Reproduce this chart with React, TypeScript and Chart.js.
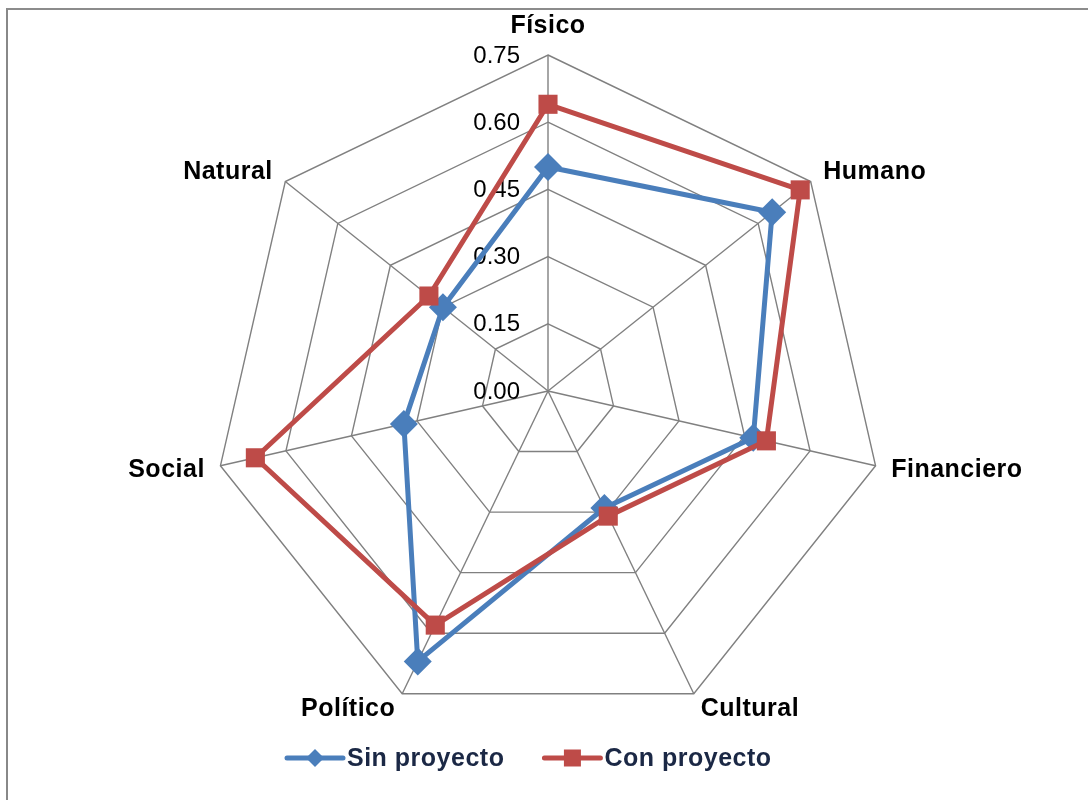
import React, { useEffect, useRef } from 'react';
import { Chart, registerables } from 'chart.js';

Chart.register(...registerables);

const categories = ['Físico', 'Humano', 'Financiero', 'Cultural', 'Político', 'Social', 'Natural'];
const sinProyecto = [0.50, 0.64, 0.47, 0.29, 0.67, 0.33, 0.30];
const conProyecto = [0.64, 0.72, 0.50, 0.31, 0.58, 0.67, 0.34];
const tickValues = [0, 0.15, 0.3, 0.45, 0.6, 0.75];
const tickLabels = ['0.00', '0.15', '0.30', '0.45', '0.60', '0.75'];
const seriesNames = ['Sin proyecto', 'Con proyecto'];
const seriesColors = ['#4A7EBB', '#BE4B48'];
const seriesMarkers = ['rectRot', 'rect'];

const FONT = '"Liberation Sans", Arial, sans-serif';

const overlayPlugin = {
  id: 'overlay',
  beforeDatasetsDraw(chart: any) {
    const ctx = chart.ctx;
    const r = chart.scales.r;
    ctx.save();
    ctx.font = `24px ${FONT}`;
    ctx.fillStyle = '#000000';
    ctx.textAlign = 'right';
    ctx.textBaseline = 'middle';
    tickValues.forEach((v, i) => {
      const d = r.getDistanceFromCenterForValue(v);
      ctx.fillText(tickLabels[i], r.xCenter - 28, r.yCenter - d + 1);
    });
    ctx.restore();
  },
  afterDraw(chart: any) {
    const ctx = chart.ctx;
    const r = chart.scales.r;
    ctx.save();
    ctx.font = `bold 25px ${FONT}`;
    (ctx as any).letterSpacing = '0.5px';
    ctx.fillStyle = '#000000';
    categories.forEach((c, i) => {
      const p = r.getPointPosition(i, r.drawingArea + 16);
      const dx = p.x - r.xCenter;
      if (Math.abs(dx) < 2) {
        ctx.textAlign = 'center';
        ctx.textBaseline = 'alphabetic';
        ctx.fillText(c, p.x, r.yCenter - r.drawingArea - 22);
      } else {
        ctx.textAlign = dx > 0 ? 'left' : 'right';
        ctx.textBaseline = 'middle';
        ctx.fillText(c, p.x, p.y + 1);
      }
    });

    // legend
    const ly = 758;
    let x = 287;
    ctx.textAlign = 'left';
    ctx.textBaseline = 'middle';
    chart.data.datasets.forEach((ds: any, i: number) => {
      const color = seriesColors[i];
      ctx.strokeStyle = color;
      ctx.lineWidth = 5;
      ctx.lineCap = 'round';
      ctx.beginPath();
      ctx.moveTo(x, ly);
      ctx.lineTo(x + 56, ly);
      ctx.stroke();
      ctx.fillStyle = color;
      const cx = x + 28;
      ctx.beginPath();
      if (seriesMarkers[i] === 'rectRot') {
        const s = 9;
        ctx.moveTo(cx - s, ly);
        ctx.lineTo(cx, ly - s);
        ctx.lineTo(cx + s, ly);
        ctx.lineTo(cx, ly + s);
        ctx.closePath();
      } else {
        ctx.rect(cx - 8.5, ly - 8.5, 17, 17);
      }
      ctx.fill();
      ctx.fillStyle = '#1B2845';
      ctx.fillText(ds.label, x + 60, ly + 1);
      const w = ctx.measureText(ds.label).width;
      x = x + 60 + w + 40;
    });
    ctx.restore();
  },
};

export default function App() {
  const ref = useRef<HTMLCanvasElement | null>(null);

  useEffect(() => {
    document.body.style.background = '#ffffff';
    const canvas = ref.current!;
    const chart = new Chart(canvas, {
      type: 'radar',
      data: {
        labels: categories,
        datasets: [
          {
            label: seriesNames[0],
            data: sinProyecto,
            borderColor: seriesColors[0],
            backgroundColor: seriesColors[0],
            borderWidth: 5,
            fill: false,
            pointStyle: seriesMarkers[0] as any,
            pointRadius: 14,
            pointBorderWidth: 0,
            pointBackgroundColor: seriesColors[0],
            order: 1,
          },
          {
            label: seriesNames[1],
            data: conProyecto,
            borderColor: seriesColors[1],
            backgroundColor: seriesColors[1],
            borderWidth: 5,
            fill: false,
            pointStyle: seriesMarkers[1] as any,
            pointRadius: 13.5,
            pointBorderWidth: 0,
            pointBackgroundColor: seriesColors[1],
            order: 0,
          },
        ],
      },
      options: {
        responsive: false,
        animation: false,
        layout: { padding: { left: 212, right: 204, top: 55, bottom: 73 } },
        plugins: {
          legend: { display: false },
          tooltip: { enabled: false },
        },
        elements: { line: { tension: 0, borderJoinStyle: 'round' as any } },
        scales: {
          r: {
            min: 0,
            max: 0.75,
            ticks: { stepSize: 0.15, display: false },
            grid: { color: '#808080', lineWidth: 1.4 },
            angleLines: { color: '#808080', lineWidth: 1.4 },
            pointLabels: { display: false },
          },
        },
      },
      plugins: [overlayPlugin],
    });
    return () => chart.destroy();
  }, []);

  return (
    <>
      <div
        style={{
          position: 'fixed',
          left: 0,
          top: 0,
          width: 1088,
          height: 800,
          background: '#ffffff',
        }}
      >
        <canvas ref={ref} width={1088} height={800} style={{ display: 'block' }} />
      </div>
      <div
        style={{
          position: 'fixed',
          left: 6,
          top: 8,
          width: 1200,
          height: 1000,
          borderLeft: '2px solid #888888',
          borderTop: '2px solid #8c8c8c',
          pointerEvents: 'none',
        }}
      />
    </>
  );
}
